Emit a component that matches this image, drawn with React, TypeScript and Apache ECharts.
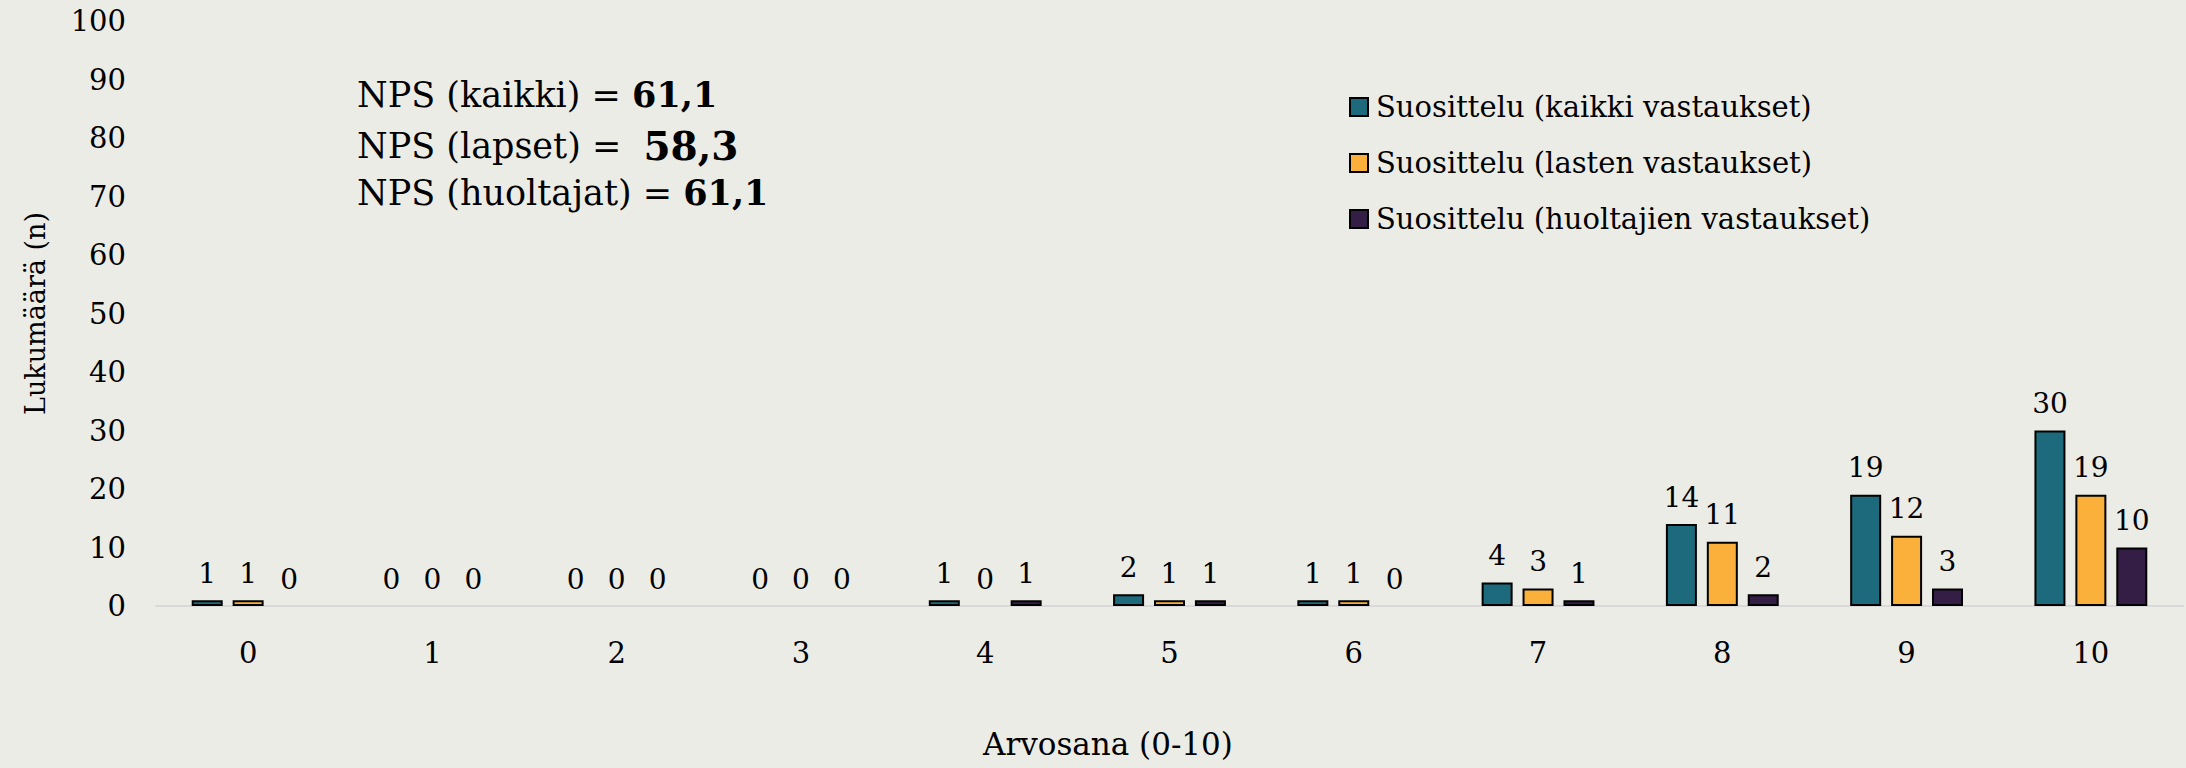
import React, { useEffect, useRef } from "react";
import * as echarts from "echarts";

const categories = ["0", "1", "2", "3", "4", "5", "6", "7", "8", "9", "10"];
const kaikki = [1, 0, 0, 0, 1, 2, 1, 4, 14, 19, 30];
const lapset = [1, 0, 0, 0, 0, 1, 1, 3, 11, 12, 19];
const huoltajat = [0, 0, 0, 0, 1, 1, 0, 1, 2, 3, 10];
const seriesNames = [
  "Suosittelu (kaikki vastaukset)",
  "Suosittelu (lasten vastaukset)",
  "Suosittelu (huoltajien vastaukset)",
];
const colors = ["#1C6A7B", "#FBB03B", "#351E45"];
const npsLines = [
  { label: "NPS (kaikki) = ", value: "61,1" },
  { label: "NPS (lapset) =  ", value: "58,3" },
  { label: "NPS (huoltajat) = ", value: "61,1" },
];

const FONT = "DejaVu Serif";

export default function App() {
  const ref = useRef<HTMLDivElement>(null);
  useEffect(() => {
    if (!ref.current) return;
    const chart = echarts.init(ref.current, null, { renderer: "svg" });
    const data = [kaikki, lapset, huoltajat];
    chart.setOption({
      animation: false,
      backgroundColor: "#ECECE7",
      textStyle: { fontFamily: FONT, color: "#000" },
      grid: { left: 156, right: 3, top: 21, bottom: 162, containLabel: false },
      legend: {
        orient: "vertical",
        left: 1344,
        top: 87,
        itemWidth: 18,
        itemHeight: 18,
        itemGap: 26,
        icon: "rect",
        textStyle: {
          fontFamily: FONT,
          fontSize: 29,
          color: "#000",
          lineHeight: 30,
          padding: [0, 0, 0, 3],
        },
        data: seriesNames,
      },
      xAxis: {
        type: "category",
        data: categories,
        axisLine: { show: true, lineStyle: { color: "#D9D9D9", width: 2 } },
        axisTick: { show: false },
        axisLabel: {
          fontFamily: FONT,
          fontSize: 29,
          color: "#000",
          margin: 32,
          lineHeight: 30,
        },
        splitLine: { show: false },
      },
      yAxis: {
        type: "value",
        min: 0,
        max: 100,
        interval: 10,
        axisLine: { show: false },
        axisTick: { show: false },
        splitLine: { show: false },
        axisLabel: {
          fontFamily: FONT,
          fontSize: 29,
          color: "#000",
          margin: 30,
        },
        name: "Lukumäärä (n)",
        nameLocation: "middle",
        nameRotate: 90,
        nameGap: 107,
        nameTextStyle: { fontFamily: FONT, fontSize: 27, color: "#000" },
      },
      series: seriesNames.map((name, i) => ({
        name,
        type: "bar",
        data: data[i].map((v) => ({
          value: v,
          itemStyle: v === 0 ? { borderWidth: 0 } : undefined,
        })),
        barWidth: 31,
        barGap: "32%",
        itemStyle: { color: colors[i], borderColor: "#000", borderWidth: 2 },
        label: {
          show: true,
          position: "top",
          distance: 12,
          fontFamily: FONT,
          fontSize: 28,
          color: "#000",
          lineHeight: 30,
        },
      })),
      graphic: [
        ...npsLines.map((l, i) => ({
          type: "text",
          left: 357,
          top: 97 + i * 49 - 20,
          style: {
            text: `{n|${l.label}}{b${i === 1 ? "2" : ""}|${l.value}}`,
            rich: {
              n: { fontFamily: FONT, fontSize: 35, fill: "#000", lineHeight: 40 },
              b: { fontFamily: FONT, fontSize: 35, fontWeight: "bold", fill: "#000", lineHeight: 40 },
              b2: { fontFamily: FONT, fontSize: 39, fontWeight: "bold", fill: "#000", lineHeight: 40 },
            },
          },
        })),
        {
          type: "text",
          left: 983,
          top: 728,
          style: {
            text: "Arvosana (0-10)",
            fontFamily: FONT,
            fontSize: 31,
            fill: "#000",
          },
        },
      ],
    });
    return () => chart.dispose();
  }, []);
  return (
    <div
      ref={ref}
      style={{ position: "fixed", left: 0, top: 0, width: 2186, height: 768 }}
    />
  );
}
